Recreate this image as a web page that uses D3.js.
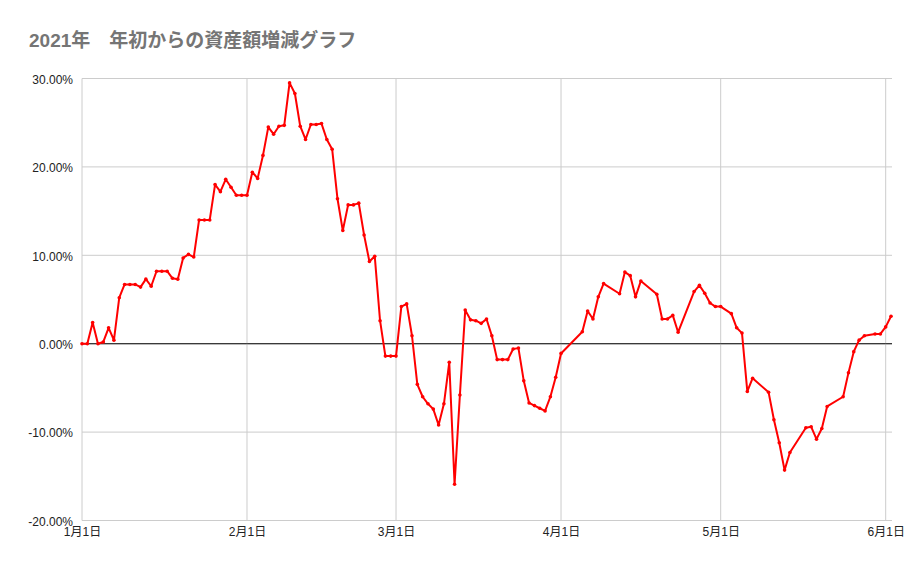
<!DOCTYPE html>
<html>
<head>
<meta charset="utf-8">
<script src="https://cdn.jsdelivr.net/npm/d3@7"></script>
<style>
  body { margin: 0; background: #fff; }
  svg { display: block; }
</style>
</head>
<body>
<div class="chart"></div>
<script>
// day offsets from 2021-01-01 and the growth (%)
const days = [
  0, 1, 2, 3, 4, 5, 6, 7, 8, 9, 10, 11, 12, 13, 14, 15, 16, 17, 18, 19,
  20, 21, 22, 23, 24, 25, 26, 27, 28, 29, 30, 31, 32, 33, 34, 35, 36, 37, 38, 39,
  40, 41, 42, 43, 44, 45, 46, 47, 48, 49, 50, 51, 52, 53, 54, 55, 56, 57, 58, 59,
  60, 61, 62, 63, 64, 65, 66, 67, 68, 69, 70, 71, 72, 73, 74, 75, 76, 77, 78, 79,
  80, 81, 82, 83, 84, 85, 86, 87, 88, 89, 90, 94, 95, 96, 97, 98, 101, 102, 103, 104,
  105, 108, 109, 110, 111, 112, 115, 116, 117, 118, 119, 120, 122, 123, 124, 125, 126, 129, 130, 131,
  132, 133, 136, 137, 138, 139, 140, 143, 144, 145, 146, 147, 149, 150, 151, 152
];
const growth = [
  0, 0, 2.4, 0, 0.2, 1.8, 0.4, 5.2, 6.7, 6.7, 6.7, 6.4, 7.3, 6.5, 8.2, 8.2, 8.2, 7.4, 7.3, 9.7,
  10.1, 9.8, 14.0, 14.0, 14.0, 18.0, 17.2, 18.6, 17.7, 16.8, 16.8, 16.8, 19.4, 18.7, 21.3, 24.5, 23.7, 24.6, 24.7, 29.5,
  28.3, 24.6, 23.1, 24.8, 24.8, 24.9, 23.1, 22.0, 16.4, 12.8, 15.7, 15.7, 15.9, 12.3, 9.3, 9.9, 2.6, -1.4, -1.4, -1.4,
  4.2, 4.5, 0.9, -4.6, -6.0, -6.8, -7.4, -9.2, -6.8, -2.1, -15.9, -5.8, 3.8, 2.7, 2.6, 2.3, 2.8, 0.9, -1.8, -1.8,
  -1.8, -0.6, -0.5, -4.2, -6.7, -7.0, -7.3, -7.6, -6.0, -3.8, -1.1, 1.35, 3.7, 2.8, 5.3, 6.8, 5.65, 8.1, 7.7, 5.3,
  7.1, 5.6, 2.8, 2.8, 3.2, 1.3, 5.9, 6.6, 5.7, 4.6, 4.2, 4.2, 3.4, 1.8, 1.2, -5.4, -3.9, -5.5, -8.6, -11.2,
  -14.3, -12.3, -9.5, -9.4, -10.8, -9.6, -7.1, -6.0, -3.3, -0.9, 0.4, 0.9, 1.1, 1.1, 1.9, 3.1
];
const monthTicks = ['2021-01-01', '2021-02-01', '2021-03-01', '2021-04-01', '2021-05-01', '2021-06-01'];
const yTicks = [-20, -10, 0, 10, 20, 30];
const title = '2021年　年初からの資産額増減グラフ';

const width = 921, height = 569;
const start = new Date(2021, 0, 1);
const dayMs = 24 * 3600 * 1000;
const data = days.map((d, i) => ({ date: new Date(start.getTime() + d * dayMs), value: growth[i] }));
const tickDates = monthTicks.map(s => { const p = s.split('-'); return new Date(+p[0], +p[1] - 1, +p[2]); });

const x = d3.scaleTime()
  .domain([start, tickDates[tickDates.length - 1]])
  .range([82, 885.7]);
const plotRight = 892;
const y = d3.scaleLinear().domain([-20, 30]).range([520.5, 78.5]);

const svg = d3.select('.chart').append('svg')
  .attr('width', width)
  .attr('height', height);

svg.append('text')
  .attr('x', 29)
  .attr('y', 47)
  .attr('fill', '#757575')
  .attr('font-family', '"Liberation Sans", "Noto Sans CJK JP", sans-serif')
  .attr('font-weight', 'bold')
  .attr('font-size', 19)
  .text(title);

// gridlines
svg.append('g').selectAll('line')
  .data(yTicks)
  .enter().append('line')
  .attr('x1', x(start)).attr('x2', plotRight)
  .attr('y1', d => y(d)).attr('y2', d => y(d))
  .attr('stroke', d => d === 0 ? '#333' : '#ccc')
  .attr('stroke-width', 1);

svg.append('g').selectAll('line')
  .data(tickDates)
  .enter().append('line')
  .attr('x1', d => x(d)).attr('x2', d => x(d))
  .attr('y1', y(30)).attr('y2', y(-20))
  .attr('stroke', '#ccc')
  .attr('stroke-width', 1);

// redraw zero line on top of vertical grid
svg.append('line')
  .attr('x1', x(start)).attr('x2', plotRight)
  .attr('y1', y(0)).attr('y2', y(0))
  .attr('stroke', '#333');

// axes labels
const yAxis = d3.axisLeft(y)
  .tickValues(yTicks)
  .tickSize(0)
  .tickPadding(9)
  .tickFormat(d => d.toFixed(2) + '%');
svg.append('g')
  .attr('transform', 'translate(' + x(start) + ',1)')
  .call(yAxis)
  .call(g => g.select('.domain').remove())
  .selectAll('text')
  .attr('font-family', '"Liberation Sans", Arial, sans-serif')
  .attr('font-size', 12)
  .attr('fill', '#222');

const xAxis = d3.axisBottom(x)
  .tickValues(tickDates)
  .tickSize(0)
  .tickPadding(7)
  .tickFormat(d => (d.getMonth() + 1) + '月' + d.getDate() + '日');
svg.append('g')
  .attr('transform', 'translate(0,' + y(-20) + ')')
  .call(xAxis)
  .call(g => g.select('.domain').remove())
  .selectAll('text')
  .attr('font-family', '"Liberation Sans", "Noto Sans CJK JP", sans-serif')
  .attr('font-size', 12)
  .attr('fill', '#222');

// series
const line = d3.line()
  .x(d => x(d.date))
  .y(d => y(d.value));

svg.append('path')
  .datum(data)
  .attr('d', line)
  .attr('fill', 'none')
  .attr('stroke', '#ff0000')
  .attr('stroke-width', 2)
  .attr('stroke-linejoin', 'round');

svg.append('g').selectAll('circle')
  .data(data)
  .enter().append('circle')
  .attr('cx', d => x(d.date))
  .attr('cy', d => y(d.value))
  .attr('r', 1.8)
  .attr('fill', '#ff0000');
</script>
</body>
</html>
